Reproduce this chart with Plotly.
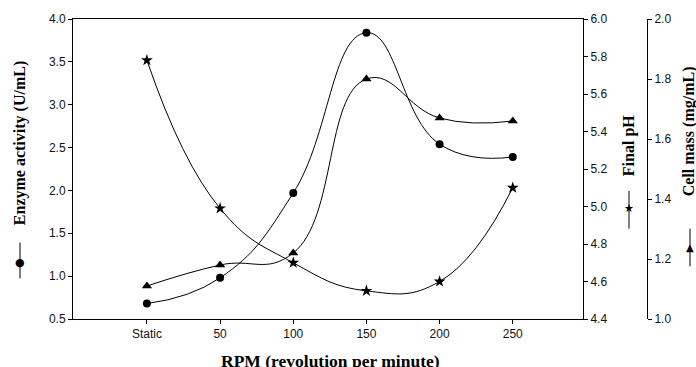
import plotly.graph_objects as go

# ---- data ----
rpm_pos = [0, 50, 100, 150, 200, 250]
rpm_labels = ["Static", "50", "100", "150", "200", "250"]
enzyme_activity = [0.68, 0.98, 1.97, 3.84, 2.54, 2.39]   # U/mL (left axis)
final_ph = [5.78, 4.99, 4.70, 4.55, 4.60, 5.10]          # pH (right axis 1)
cell_mass = [1.11, 1.18, 1.22, 1.80, 1.67, 1.66]         # mg/mL (right axis 2)

W, H = 696, 367
L, R, T, B = 73, 583, 17, 319   # main plot area in pixels
R2 = 647                        # third axis position
DOM = (R - L) / (R2 - L)

def px(x):
    return (x - L) / (R2 - L)

def py(y):
    return (B - y) / (B - T)

tickfont = dict(family="Liberation Sans, Arial", size=12, color="#111")
titlefont = dict(family="Liberation Serif, Times New Roman", size=16, color="black")

fig = go.Figure()

line = dict(color="black", width=1, shape="spline", smoothing=1.3)
fig.add_trace(go.Scatter(x=rpm_pos, y=enzyme_activity, mode="lines+markers",
                         line=line, marker=dict(symbol="circle", size=8, color="black"),
                         yaxis="y", showlegend=False))
fig.add_trace(go.Scatter(x=rpm_pos, y=final_ph, mode="lines+markers",
                         line=line, marker=dict(symbol="star", size=9, color="black"),
                         yaxis="y2", showlegend=False))
fig.add_trace(go.Scatter(x=rpm_pos, y=cell_mass, mode="lines+markers",
                         line=line, marker=dict(symbol="triangle-up", size=9, color="black"),
                         yaxis="y3", showlegend=False))

axis_common = dict(showline=True, linecolor="black", linewidth=1, ticks="outside",
                   ticklen=4, tickcolor="black", tickwidth=1, showgrid=False,
                   zeroline=False, tickfont=tickfont)

fig.update_layout(
    width=W, height=H,
    margin=dict(l=L, r=W - R2, t=T, b=H - B, pad=0),
    paper_bgcolor="white", plot_bgcolor="white",
    xaxis=dict(domain=[0, DOM], range=[-50.5, 298], tickvals=rpm_pos, ticktext=rpm_labels,
               mirror=True, **axis_common),
    yaxis=dict(range=[0.5, 4.0], dtick=0.5, tickformat=".1f", **axis_common),
    yaxis2=dict(range=[4.4, 6.0], dtick=0.2, tickformat=".1f", overlaying="y",
                side="right", anchor="x", **axis_common),
    yaxis3=dict(range=[1.0, 2.0], dtick=0.2, tickformat=".1f", overlaying="y",
                side="right", anchor="free", position=1.0, **axis_common),
)

# legend-like symbols beside axis titles: line + marker glyph
for xp, y0, y1, ym, glyph, gs in [(20, 242, 278, 262, "●", 11),
                                   (629, 190, 228, 208, "★", 11),
                                   (690, 228, 266, 247, "▲", 10)]:
    fig.add_shape(type="line", xref="paper", yref="paper",
                  x0=px(xp), x1=px(xp), y0=py(y0), y1=py(y1),
                  line=dict(color="black", width=1))
    fig.add_annotation(text=glyph, xref="paper", yref="paper", x=px(xp), y=py(ym),
                       showarrow=False, xanchor="center", yanchor="middle",
                       font=dict(family="DejaVu Sans", size=gs, color="black"))

# axis titles
fig.add_annotation(text="<b>Enzyme activity (U/mL)</b>", xref="paper", yref="paper",
                   x=px(20), y=py(142), textangle=-90, showarrow=False,
                   xanchor="center", yanchor="middle", font=titlefont)
fig.add_annotation(text="<b>Final pH</b>", xref="paper", yref="paper",
                   x=px(629), y=py(145), textangle=-90, showarrow=False,
                   xanchor="center", yanchor="middle", font=titlefont)
fig.add_annotation(text="<b>Cell mass (mg/mL)</b>", xref="paper", yref="paper",
                   x=px(689), y=py(130), textangle=-90, showarrow=False,
                   xanchor="center", yanchor="middle", font=titlefont)
fig.add_annotation(text="<b>RPM (revolution per minute)</b>", xref="paper", yref="paper",
                   x=px(330), y=py(361), showarrow=False,
                   xanchor="center", yanchor="middle",
                   font=dict(family="Liberation Serif, Times New Roman", size=17.5, color="black"))

fig.write_html("out.html")
